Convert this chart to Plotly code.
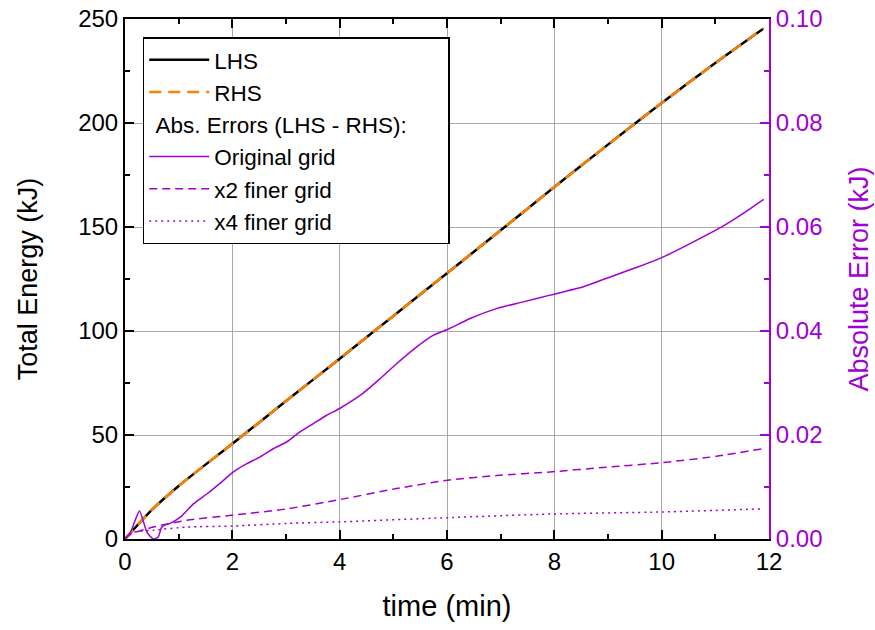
import plotly.graph_objects as go

# ---- data ----
t_energy = [0, 0.5, 1, 2, 3, 4, 5, 6, 7, 8, 9, 10, 11, 11.9]
lhs = [0, 14, 25.5, 45.8, 66.3, 86.7, 107.2, 127.8, 148.4, 169.2, 189.6, 209.6, 228.8, 245.4]
rhs = [0, 14, 25.5, 45.8, 66.3, 86.7, 107.2, 127.8, 148.4, 169.2, 189.6, 209.6, 228.8, 245.4]

t_orig = [0, 0.09, 0.19, 0.27, 0.41, 0.53, 0.62, 0.68, 0.77, 0.84, 1.03, 1.28, 1.53, 1.77,
          2.02, 2.27, 2.52, 2.77, 3.02, 3.26, 3.51, 3.76, 4.0, 4.38, 4.75, 5.06, 5.43, 5.75,
          6.01, 6.43, 6.92, 7.42, 7.92, 8.54, 9.04, 9.53, 10.02, 10.53, 11.15, 11.52, 11.9]
err_orig = [0, 0.0010, 0.0036, 0.0054, 0.0013, 0.0000, 0.0004, 0.0022, 0.0028, 0.0030,
            0.0042, 0.0068, 0.0087, 0.0107, 0.0129, 0.0145, 0.0158, 0.0174, 0.0187, 0.0206,
            0.0222, 0.0238, 0.0251, 0.0276, 0.0308, 0.0337, 0.0369, 0.0392, 0.0403, 0.0424,
            0.0443, 0.0456, 0.0469, 0.0485, 0.0504, 0.0522, 0.0542, 0.0568, 0.0602, 0.0626,
            0.0653]

t_x2 = [0, 0.12, 0.53, 1.15, 2.02, 3.02, 4.01, 5.06, 6.01, 6.92, 7.92, 8.97, 10.02, 11.02, 11.9]
err_x2 = [0, 0.0010, 0.0023, 0.0036, 0.0046, 0.0058, 0.0076, 0.0097, 0.0113, 0.0122,
          0.0129, 0.0138, 0.0147, 0.0159, 0.0174]

t_x4 = [0, 0.16, 0.53, 1.15, 2.02, 3.02, 4.01, 6.01, 7.92, 10.02, 11.9]
err_x4 = [0, 0.0013, 0.0017, 0.0023, 0.0025, 0.0030, 0.0033, 0.0041, 0.0048, 0.0052, 0.0058]

x_ticks = [0, 2, 4, 6, 8, 10, 12]
y_ticks = [0, 50, 100, 150, 200, 250]
y2_ticks = [0, 0.02, 0.04, 0.06, 0.08, 0.10]

# ---- style ----
FONT = "Liberation Sans, Arial, sans-serif"
PURPLE = "#A000D0"
ORANGE = "#FF8000"
GRID = "#A8A8A8"
NB = "\u00a0"

fig = go.Figure()
fig.add_trace(go.Scatter(x=t_energy, y=lhs, name="LHS", mode="lines",
                         line=dict(color="black", width=2.5, shape="spline", smoothing=0.8)))
fig.add_trace(go.Scatter(x=t_energy, y=rhs, name="RHS", mode="lines",
                         line=dict(color=ORANGE, width=2.5, dash="12px,7px", shape="spline", smoothing=0.8)))
grp_title = dict(text=NB + "Abs. Errors (LHS - RHS):" + NB * 5,
                 font=dict(family=FONT, size=22.5, color="black"))
fig.add_trace(go.Scatter(x=t_orig, y=err_orig, name="Original grid", mode="lines", yaxis="y2",
                         legendgroup="err", legendgrouptitle=grp_title,
                         line=dict(color=PURPLE, width=1.5, shape="spline", smoothing=0.6)))
fig.add_trace(go.Scatter(x=t_x2, y=err_x2, name="x2 finer grid", mode="lines", yaxis="y2",
                         legendgroup="err",
                         line=dict(color=PURPLE, width=1.5, dash="8px,5px", shape="spline", smoothing=0.6)))
fig.add_trace(go.Scatter(x=t_x4, y=err_x4, name="x4 finer grid", mode="lines", yaxis="y2",
                         legendgroup="err",
                         line=dict(color=PURPLE, width=1.5, dash="2px,4px", shape="spline", smoothing=0.6)))

fig.update_layout(
    width=875, height=630,
    margin=dict(l=125, r=106, t=19, b=91, autoexpand=False),
    paper_bgcolor="white", plot_bgcolor="white",
    font=dict(family=FONT, size=24, color="black"),
    showlegend=True,
    legend=dict(x=0.0275, y=0.965, xanchor="left", yanchor="top",
                bgcolor="white", bordercolor="black", borderwidth=1.5,
                font=dict(family=FONT, size=22.5, color="black"),
                itemwidth=60, tracegroupgap=0, traceorder="grouped"),
    xaxis=dict(range=[0, 12], tickvals=x_ticks, ticks="inside", ticklen=9, tickwidth=2,
               tickcolor="black", showline=True, linecolor="black", linewidth=2,
               mirror="ticks", showgrid=True, gridcolor=GRID, gridwidth=1, zeroline=False,
               automargin=False, ticklabeloverflow="allow",
               minor=dict(ticks="inside", ticklen=5, tickwidth=1.5, tickcolor="black", dtick=1, showgrid=False),
               tickfont=dict(family=FONT, size=24, color="black"),
               title=dict(text="time (min)", font=dict(family=FONT, size=29, color="black"), standoff=22)),
    yaxis=dict(range=[0, 250], tickvals=y_ticks, ticks="inside", ticklen=9, tickwidth=2,
               tickcolor="black", showline=True, linecolor="black", linewidth=2,
               showgrid=True, gridcolor=GRID, gridwidth=1, zeroline=False,
               automargin=False, ticklabeloverflow="allow",
               minor=dict(ticks="inside", ticklen=5, tickwidth=1.5, tickcolor="black", dtick=25, showgrid=False),
               tickfont=dict(family=FONT, size=24, color="black"),
               title=dict(text="Total Energy (kJ)", font=dict(family=FONT, size=27, color="black"), standoff=33)),
    yaxis2=dict(range=[0, 0.1], tickvals=y2_ticks, tickformat=".2f", overlaying="y", side="right",
                ticks="inside", ticklen=9, tickwidth=2, tickcolor=PURPLE,
                showline=True, linecolor=PURPLE, linewidth=2, showgrid=False, zeroline=False,
                automargin=False, ticklabeloverflow="allow",
                minor=dict(ticks="inside", ticklen=5, tickwidth=1.5, tickcolor=PURPLE, dtick=0.01, showgrid=False),
                tickfont=dict(family=FONT, size=24, color=PURPLE),
                title=dict(text="Absolute Error (kJ)", font=dict(family=FONT, size=27, color=PURPLE), standoff=28)),
)

# remove the default 8px page margin so the 875x630 figure fills the window exactly
fig.write_html("out.html", config={"displayModeBar": False},
               post_script="document.body.style.margin='0';")
